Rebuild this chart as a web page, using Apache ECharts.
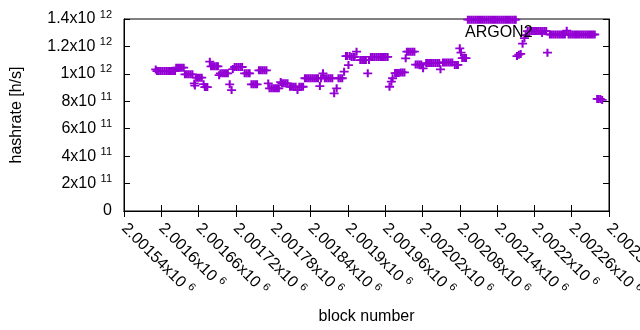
<!DOCTYPE html>
<html>
<head>
<meta charset="utf-8">
<script src="https://cdn.jsdelivr.net/npm/echarts@6/dist/echarts.min.js"></script>
<style>
  html, body { margin: 0; padding: 0; background: #fff; }
  #chart { width: 640px; height: 330px; }
</style>
</head>
<body>
<div id="chart"></div>
<script>
// block number, hashrate in units of 1e9 h/s
var samples = [
  [2001591, 1032],
  [2001593, 1020], [2001596, 1020], [2001599, 1020], [2001602, 1020], [2001605, 1020], [2001608, 1020],
  [2001611, 1020], [2001614, 1020], [2001617, 1020], [2001620, 1020], [2001622, 1020],
  [2001624, 1045], [2001627, 1045], [2001630, 1045], [2001633, 1045], [2001636, 1045],
  [2001638, 997], [2001641, 997], [2001644, 997], [2001647, 997], [2001650, 997],
  [2001653, 930], [2001654, 915],
  [2001656, 972], [2001659, 972], [2001662, 972], [2001665, 972],
  [2001668, 925], [2001670, 904], [2001672, 904], [2001674, 904],
  [2001678, 1089],
  [2001680, 1055], [2001683, 1055], [2001686, 1055], [2001689, 1055], [2001691, 1055],
  [2001693, 990],
  [2001695, 1004], [2001698, 1004], [2001701, 1004], [2001704, 1004], [2001707, 1004],
  [2001710, 924], [2001713, 882], [2001715, 1035],
  [2001718, 1050], [2001721, 1050], [2001724, 1050], [2001727, 1050], [2001730, 1050],
  [2001734, 1004], [2001737, 1004], [2001740, 1004], [2001742, 1004],
  [2001745, 924], [2001748, 924], [2001751, 924], [2001754, 924],
  [2001757, 1026], [2001760, 1026], [2001763, 1026], [2001766, 1026], [2001769, 1026],
  [2001772, 930],
  [2001774, 895], [2001777, 895], [2001780, 895], [2001783, 895], [2001786, 895], [2001789, 895],
  [2001792, 940],
  [2001794, 931], [2001797, 931], [2001800, 931], [2001803, 931],
  [2001807, 906], [2001810, 906], [2001813, 906], [2001816, 906], [2001819, 882], [2001822, 906],
  [2001825, 906], [2001828, 906],
  [2001831, 968], [2001834, 968], [2001837, 968], [2001840, 968], [2001843, 968], [2001846, 968],
  [2001849, 968], [2001852, 968], [2001855, 911], [2001857, 968], [2001860, 1004], [2001863, 968],
  [2001866, 968], [2001869, 968], [2001872, 968], [2001875, 968],
  [2001878, 858], [2001882, 895],
  [2001885, 968], [2001888, 968], [2001891, 968],
  [2001894, 1016],
  [2001897, 1130], [2001899, 1130], [2001901, 1064], [2001903, 1130],
  [2001906, 1123], [2001909, 1123], [2001911, 1123],
  [2001914, 1162],
  [2001920, 1101], [2001923, 1101], [2001926, 1101], [2001929, 1101], [2001932, 1004], [2001934, 1101],
  [2001937, 1123], [2001940, 1123], [2001943, 1123], [2001946, 1123], [2001949, 1123], [2001952, 1123],
  [2001955, 1123], [2001958, 1123], [2001961, 1123], [2001964, 1123],
  [2001967, 906], [2001970, 943], [2001972, 968],
  [2001976, 1006], [2001979, 1006], [2001982, 1006], [2001985, 1010], [2001988, 1010], [2001991, 1010],
  [2001993, 1113],
  [2001995, 1162], [2001998, 1162], [2002001, 1162], [2002004, 1162], [2002007, 1162],
  [2002009, 1068], [2002012, 1068], [2002015, 1068], [2002018, 1068], [2002021, 1040],
  [2002026, 1079], [2002029, 1079], [2002032, 1079], [2002035, 1079], [2002038, 1079], [2002041, 1079],
  [2002044, 1079], [2002047, 1079],
  [2002049, 1033],
  [2002053, 1083], [2002056, 1083], [2002059, 1083], [2002062, 1083], [2002065, 1083], [2002068, 1083],
  [2002072, 1065], [2002075, 1065], [2002077, 1065],
  [2002080, 1186], [2002082, 1155],
  [2002084, 1115], [2002087, 1115], [2002090, 1115],
  [2002093, 1395], [2002096, 1395], [2002099, 1395], [2002102, 1395], [2002105, 1395], [2002108, 1395],
  [2002111, 1395], [2002114, 1395], [2002117, 1395], [2002120, 1395], [2002123, 1395], [2002126, 1395],
  [2002129, 1395], [2002132, 1395], [2002135, 1395], [2002138, 1395], [2002141, 1395], [2002144, 1395],
  [2002147, 1395], [2002150, 1395], [2002153, 1395], [2002156, 1395], [2002159, 1395], [2002162, 1395],
  [2002165, 1395], [2002168, 1395], [2002170, 1395],
  [2002172, 1130], [2002175, 1140], [2002178, 1145],
  [2002181, 1220], [2002184, 1260], [2002186, 1283],
  [2002189, 1312], [2002192, 1312], [2002195, 1312], [2002198, 1312], [2002201, 1312], [2002204, 1312],
  [2002207, 1312], [2002210, 1312], [2002213, 1312], [2002216, 1312], [2002219, 1312],
  [2002221, 1154],
  [2002225, 1287], [2002228, 1287], [2002231, 1287], [2002234, 1287], [2002237, 1287], [2002240, 1287],
  [2002243, 1287], [2002246, 1287], [2002249, 1287], [2002252, 1315], [2002255, 1287], [2002258, 1287],
  [2002261, 1287], [2002264, 1287], [2002267, 1287], [2002270, 1287], [2002273, 1287], [2002276, 1287],
  [2002279, 1287], [2002282, 1287], [2002285, 1287], [2002288, 1287], [2002291, 1287], [2002294, 1287],
  [2002297, 1287],
  [2002301, 817], [2002303, 817], [2002306, 817], [2002309, 810]
];

var seriesName = 'ARGON2';
var xRange = [2001540, 2002320];
var xStep = 60;
var yRange = [0, 1.4e12];
var yStep = 2e11;

var FONT = '"Liberation Sans", Arial, sans-serif';
var PURPLE = '#9400d3';
var plusPath = 'path://M0,3.9H3.85V0H6.15V3.9H10V6.1H6.15V10H3.85V6.1H0Z';

var richStyle = {
  b: { fontSize: 16, color: '#000', fontFamily: FONT },
  sup: { fontSize: 11, color: '#000', fontFamily: FONT, padding: [0, 0, 9, 0] }
};

function sciLabel(v) {
  if (v === 0) return '{b|0}';
  var e = Math.floor(Math.log10(v) + 1e-9);
  var m = parseFloat((v / Math.pow(10, e)).toFixed(5));
  return '{b|' + m + 'x10 }{sup|' + e + '}';
}

var chart = echarts.init(document.getElementById('chart'), null, { renderer: 'canvas' });

var tickStyle = { show: true, inside: true, length: 6, lineStyle: { color: '#000', width: 1 } };
var lineStyle = { show: true, lineStyle: { color: '#000', width: 1 } };

chart.setOption({
  animation: false,
  backgroundColor: '#fff',
  textStyle: { fontFamily: FONT },
  grid: {
    left: 124, right: 31, top: 19, bottom: 119,
    containLabel: false,
    outerBoundsMode: 'none',
    show: true, borderColor: '#000', borderWidth: 1
  },
  legend: {
    data: [seriesName],
    left: 460,
    top: 20,
    align: 'right',
    itemWidth: 9,
    itemHeight: 8,
    icon: plusPath,
    textStyle: { fontSize: 16, color: '#000', fontFamily: FONT }
  },
  xAxis: [{
    type: 'value',
    min: xRange[0], max: xRange[1], interval: xStep,
    name: 'block number',
    nameLocation: 'middle',
    nameGap: 98,
    nameTextStyle: { fontSize: 16, color: '#000', fontFamily: FONT },
    axisLine: lineStyle,
    axisTick: tickStyle,
    splitLine: { show: false },
    axisLabel: {
      rotate: -45,
      margin: 15,
      showMaxLabel: true,
      hideOverlap: false,
      formatter: sciLabel,
      rich: richStyle
    }
  }, {
    type: 'value', position: 'top',
    min: xRange[0], max: xRange[1], interval: xStep,
    axisLine: lineStyle, axisTick: tickStyle,
    axisLabel: { show: false }, splitLine: { show: false }
  }],
  yAxis: [{
    type: 'value',
    min: yRange[0], max: yRange[1], interval: yStep,
    name: 'hashrate [h/s]',
    nameLocation: 'middle',
    nameGap: 99,
    nameTextStyle: { fontSize: 16, color: '#000', fontFamily: FONT },
    axisLine: lineStyle,
    axisTick: tickStyle,
    splitLine: { show: false },
    axisLabel: { margin: 12, formatter: sciLabel, rich: richStyle }
  }, {
    type: 'value', position: 'right',
    min: yRange[0], max: yRange[1], interval: yStep,
    axisLine: lineStyle, axisTick: tickStyle,
    axisLabel: { show: false }, splitLine: { show: false }
  }],
  series: [{
    name: seriesName,
    type: 'scatter',
    clip: false,
    symbol: plusPath,
    symbolSize: [9, 8],
    itemStyle: { color: PURPLE, opacity: 1 },
    data: samples.map(function(s) { return [s[0], s[1] * 1e9]; })
  }]
});
</script>
</body>
</html>
